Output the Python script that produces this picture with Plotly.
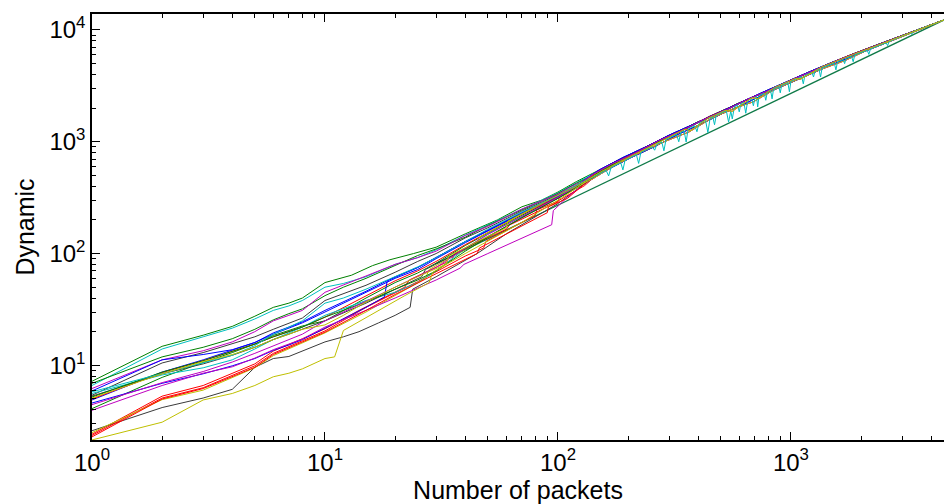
import plotly.graph_objects as go

# ---------------- data ----------------
STRAIGHT_X = [30, 4540]
STRAIGHT_Y = [81.3, 12300]

# low-x parts of the curves (x = number of packets, y = dynamic)
X_L01 = [1, 2, 3, 4, 5, 6, 7, 8, 10, 13, 16, 19, 24, 30, 40, 55, 70, 85, 100, 120]
Y_L01 = [7.2, 14.8, 18.6, 22.3, 27.5, 33, 36, 40, 55, 64, 78, 88, 100, 114, 150, 200, 262, 300, 355, 440]

X_STD = [1, 2, 3, 4, 5, 6, 7, 8, 10, 12, 15, 20, 25, 30, 40, 50, 70, 100, 120]
Y_L02 = [6.6, 14.0, 18, 21.5, 26, 31, 34, 38, 50, 54, 62, 80, 92, 108, 146, 180, 250, 350, 430]
Y_L03 = [6.9, 11.9, 14.5, 17.3, 21, 25.5, 29, 32, 42, 50, 60, 78, 96, 110, 140, 178, 245, 345, 425]
Y_L04 = [6.2, 11.2, 13.5, 16.2, 20, 25, 28, 31, 45, 52, 63, 80, 92, 105, 145, 175, 250, 340, 420]
Y_L05 = [5.4, 10.5, 13, 15.6, 18, 21, 24, 26.5, 38, 44, 52, 68, 85, 100, 138, 170, 240, 335, 410]
Y_L06 = [5.8, 8.4, 10.5, 12.3, 15, 19, 22, 25, 36, 40, 48, 62, 76, 92, 128, 165, 235, 330, 410]
Y_L07 = [4.9, 8.7, 11.2, 13.6, 16, 19, 21.5, 24, 30, 36, 45, 60, 72, 90, 125, 160, 230, 325, 405]
Y_L08 = [5.0, 8.6, 11, 13.3, 15.5, 18, 20, 22, 27, 33, 42, 57, 70, 85, 120, 155, 225, 320, 400]
Y_L09 = [4.1, 7.8, 10.6, 13.0, 15.5, 18.5, 20.5, 22.5, 25, 31, 40, 55, 67, 82, 118, 152, 220, 318, 398]
Y_L11 = [5.6, 8.2, 9.5, 11.2, 14, 17, 19.5, 22, 28, 32, 38, 45, 55, 70, 110, 150, 215, 312, 395]
Y_L14 = [5.2, 8.7, 11, 13.3, 15.5, 18, 20, 22, 27, 31, 37, 48, 58, 70, 105, 140, 210, 312, 392]
Y_L15 = [5.9, 11.2, 12.5, 13.8, 16, 19.5, 22, 24.5, 31, 37, 46, 62, 75, 92, 128, 162, 232, 328, 405]
Y_M3 = [4.45, 7.0, 8.8, 10.7, 12.8, 15, 17, 19, 25, 30, 37, 50, 62, 75, 112, 148, 215, 318, 400]

X_L10 = [1, 2, 3, 4, 5, 6, 7, 8, 10, 12, 15, 20, 25, 33, 34, 45, 60, 61, 80, 100, 120]
Y_L10 = [5.1, 8.4, 10.8, 12.5, 14.5, 17, 19, 21, 23, 28, 37, 50, 62, 80, 95, 128, 170, 195, 262, 330, 400]

X_L12 = [1, 2, 3, 4, 5, 6, 7, 8, 10, 12, 15, 18, 18.5, 25, 30, 40, 50, 70, 100, 120]
Y_L12 = [4.6, 6.9, 8.4, 9.9, 11.5, 13.6, 15.2, 17, 21.5, 26, 33, 41, 57, 75, 92, 128, 160, 228, 325, 402]

X_L13 = [1, 2, 3, 4, 5, 6, 7, 8, 10, 12, 15, 20, 25, 30, 38, 39.5, 50, 70, 94, 95.5, 110, 130]
Y_L13 = [3.96, 6.6, 8.5, 9.7, 11.6, 13.8, 15.5, 17.2, 22, 25.5, 31, 40, 49, 58, 74, 80, 100, 138, 181, 242, 320, 420]

X_K2 = [1, 2, 3, 4, 5, 6, 7, 8, 10, 15, 20, 26, 27, 40, 60, 100, 130]
Y_K2 = [5.3, 8.4, 10.3, 12.3, 14.5, 17, 19, 21, 25, 36, 48, 62, 72, 110, 175, 310, 420]

X_RA = [1, 2, 3, 4, 5, 6, 7, 8, 10, 14, 22, 23, 35, 36, 60, 62, 100, 102, 125]
Y_RA = [2.42, 5.3, 6.6, 8.5, 10.3, 13.4, 15.3, 17.3, 21.2, 31, 50, 58, 88, 100, 165, 180, 290, 330, 420]

X_RB = [1, 2, 3, 4, 5, 6, 7, 8, 10, 15, 25, 40, 48, 49, 80, 81, 100, 130]
Y_RB = [2.36, 5.1, 6.3, 8.1, 9.9, 12.8, 14.8, 16.6, 20.3, 33, 56, 95, 112, 128, 220, 245, 295, 405]

X_RC = [1, 2, 3, 4, 5, 6, 7, 8, 10, 15, 20, 30, 45, 46, 70, 90, 91, 110, 135]
Y_RC = [2.29, 5.0, 6.2, 8.0, 9.6, 12.5, 14.3, 16.1, 19.8, 31, 43, 66, 100, 112, 175, 232, 262, 312, 450]

X_YA = [1, 2, 3, 4, 5, 6, 7, 8, 10, 15, 20, 27, 28, 45, 46, 70, 100, 128]
Y_YA = [2.5, 4.93, 6.0, 7.7, 9.5, 12.2, 14, 15.8, 19.5, 30, 42, 60, 72, 125, 140, 225, 330, 445]

X_YB = [1, 2, 3, 4, 5, 6, 7, 8, 10, 11, 12, 16, 22, 28, 29, 40, 70, 100, 130]
Y_YB = [2.15, 3.1, 4.9, 5.6, 6.6, 7.9, 8.5, 9.3, 11.5, 11.9, 20.5, 29, 42, 55, 68, 100, 190, 300, 430]

X_KA = [1, 2, 3, 4, 5, 6, 7, 8, 10, 12, 14, 17, 20, 23.2, 23.8, 30, 45, 60, 100, 130]
Y_KA = [2.6, 4.19, 5.1, 6.1, 9.6, 11.5, 12.0, 13.5, 16.2, 18, 20, 24, 28, 33, 48, 62, 100, 150, 280, 420]

# high-x parts (all curves converge to the same end point)
TAIL_A_X = [150, 190, 240, 300, 380, 480, 600, 760, 950, 1200, 1500, 1900, 2400, 3000, 3700, 4540]
TAIL_A_Y = [558, 722, 907, 1146, 1429, 1800, 2220, 2782, 3420, 4224, 5130, 6232, 7488, 8910, 10508, 12300]
TAIL_B_X = [140, 170, 210, 270, 340, 420, 530, 650, 820, 1000, 1300, 1650, 2100, 2700, 3400, 4540]
TAIL_B_Y = [504, 632, 773, 1021, 1258, 1571, 1940, 2392, 2936, 3560, 4485, 5544, 6720, 8181, 9860, 12300]
TAIL_C_X = [160, 200, 250, 320, 400, 500, 640, 800, 1000, 1250, 1600, 2000, 2600, 3300, 4100, 4540]
TAIL_C_Y = [568, 730, 930, 1171, 1488, 1820, 2349, 2864, 3540, 4350, 5376, 6440, 7956, 9636, 11398, 12300]
TAIL_D_X = [130, 165, 205, 260, 330, 410, 510, 630, 780, 960, 1200, 1550, 2000, 2500, 3200, 4000, 4540]
TAIL_D_Y = [442, 569, 718, 905, 1172, 1435, 1795, 2174, 2707, 3264, 4020, 5038, 6240, 7550, 9280, 11120, 12300]
TAIL_E_X = [150, 185, 230, 290, 350, 370, 440, 520, 560, 680, 720, 850, 1050, 1100, 1350, 1700, 2200, 2900, 3600, 4540]
TAIL_E_Y = [525, 666, 833, 1061, 1295, 1258, 1619, 1903, 1876, 2475, 2434, 3060, 3696, 3630, 4658, 5644, 6930, 8642, 10296, 12300]
TAIL_F_X = [145, 175, 215, 280, 360, 450, 570, 700, 880, 1100, 1400, 1750, 2250, 2850, 3500, 4300, 4540]
TAIL_F_Y = [531, 658, 804, 1064, 1339, 1697, 2109, 2562, 3186, 3894, 4816, 5845, 7133, 8550, 10080, 11825, 12300]
TAIL_G_X = [155, 195, 245, 310, 390, 470, 580, 720, 900, 1150, 1450, 1850, 2350, 2950, 3650, 4540]
TAIL_G_Y = [561, 722, 921, 1147, 1474, 1739, 2158, 2621, 3240, 4025, 4930, 6105, 7379, 8791, 10403, 12300]
TAIL_H_X = [140, 175, 225, 285, 365, 455, 560, 690, 860, 1080, 1350, 1700, 2150, 2750, 3450, 4200, 4540]
TAIL_H_Y = [462, 613, 799, 998, 1223, 1615, 1960, 2277, 2967, 3650, 4455, 5304, 6665, 8113, 9798, 11550, 12300]
TAIL_CY_X = [140, 161, 165, 169, 186, 190, 194, 217, 222, 227, 254, 260, 266, 279, 285, 291,
             323, 330, 337, 348, 355, 362, 387, 395, 403, 430, 440, 450, 462, 470, 478,
             528, 540, 552, 560, 572, 590, 600, 610, 628, 640, 652, 678, 690, 702, 712, 720, 730,
             768, 780, 792, 818, 830, 842, 888, 900, 912, 970, 985, 1000, 1112, 1130, 1148,
             1230, 1250, 1270, 1320, 1340, 1360, 1535, 1560, 1585, 1675, 1700, 1725, 1820, 1850, 1880,
             2125, 2160, 2195, 2560, 2600, 2640, 3250, 3300, 3350, 4000, 4540]
TAIL_CY_Y = [476, 555, 495, 585, 651, 560, 679, 770, 640, 806, 904, 840, 950, 999, 830, 1048,
             1163, 1000, 1213, 1253, 995, 1303, 1393, 1230, 1459, 1557, 1210, 1629, 1663, 1420, 1730,
             1901, 1500, 1877, 1600, 2059, 2124, 1850, 2196, 2248, 1800, 2334, 2420, 2100, 2499, 2528, 2050, 2592,
             2719, 2350, 2796, 2879, 2420, 2964, 3117, 2740, 3192, 3385, 2800, 3480, 3825, 3300, 3938,
             4182, 3800, 4305, 4448, 3800, 4570, 5050, 4400, 5199, 5427, 5000, 5572, 5806, 5200, 5978,
             6588, 6050, 6783, 7680, 7250, 7894, 9425, 9150, 9682, 11120, 12300]

C_B, C_G, C_R, C_C, C_M, C_Y, C_K = '#0000ff', '#008000', '#ff0000', '#00bfbf', '#bf00bf', '#bfbf00', '#3a3a3a'
C_STRAIGHT = '#0f7a48'

# (low x, low y, tail x, tail y, colour), in drawing order
CURVES = [
    (X_L01, Y_L01, TAIL_A_X, TAIL_A_Y, C_G),
    (X_STD, Y_L02, TAIL_F_X, TAIL_F_Y, C_C),
    (X_RA, Y_RA, TAIL_B_X, TAIL_B_Y, C_R),
    (X_STD, Y_L03, TAIL_C_X, TAIL_C_Y, C_G),
    (X_STD, Y_L04, TAIL_H_X, TAIL_H_Y, C_M),
    (X_KA, Y_KA, TAIL_G_X, TAIL_G_Y, C_K),
    (X_STD, Y_L07, TAIL_A_X, TAIL_A_Y, C_B),
    (X_RB, Y_RB, TAIL_E_X, TAIL_E_Y, C_R),
    (X_STD, Y_L05, TAIL_D_X, TAIL_D_Y, C_K),
    (X_STD, Y_L09, TAIL_F_X, TAIL_F_Y, C_G),
    (X_STD, Y_L08, TAIL_B_X, TAIL_B_Y, C_R),
    (X_STD, Y_L11, TAIL_C_X, TAIL_C_Y, C_C),
    (X_L12, Y_L12, TAIL_D_X, TAIL_D_Y, C_B),
    (X_YA, Y_YA, TAIL_G_X, TAIL_G_Y, C_Y),
    (X_L13, Y_L13, TAIL_H_X, TAIL_H_Y, C_M),
    (X_K2, Y_K2, TAIL_C_X, TAIL_C_Y, C_K),
    (X_STD, Y_L14, TAIL_G_X, TAIL_G_Y, C_G),
    (X_RC, Y_RC, TAIL_F_X, TAIL_F_Y, C_R),
    (X_STD, Y_L15, TAIL_A_X, TAIL_A_Y, C_B),
    (X_STD, Y_M3, TAIL_B_X, TAIL_B_Y, C_M),
    (X_YB, Y_YB, TAIL_H_X, TAIL_H_Y, C_Y),
    (X_STD, Y_L06, TAIL_CY_X, TAIL_CY_Y, C_C),
    (X_L10, Y_L10, TAIL_E_X, TAIL_E_Y, C_Y),
]

X_TICKS = [1, 10, 100, 1000]
X_TICKTEXT = ['10<sup>0</sup>', '10<sup>1</sup>', '10<sup>2</sup>', '10<sup>3</sup>']
Y_TICKS = [10, 100, 1000, 10000]
Y_TICKTEXT = ['10<sup>1</sup>', '10<sup>2</sup>', '10<sup>3</sup>', '10<sup>4</sup>']
X_TITLE = 'Number of packets'
Y_TITLE = 'Dynamic'

# ---------------- figure ----------------
FONT = 'Liberation Sans, Arial, Helvetica, sans-serif'
fig = go.Figure()
fig.add_trace(go.Scatter(x=STRAIGHT_X, y=STRAIGHT_Y, mode='lines',
                         line=dict(color=C_STRAIGHT, width=1.3), hoverinfo='skip', showlegend=False))
for lx, ly, tx, ty, col in CURVES:
    fig.add_trace(go.Scatter(x=list(lx) + list(tx), y=list(ly) + list(ty), mode='lines',
                             line=dict(color=col, width=1), hoverinfo='skip', showlegend=False))

x_minor = [m * 10 ** k for k in range(0, 4) for m in range(2, 10) if m * 10 ** k < 4540]
y_minor = [m * 10 ** k for k in range(0, 5) for m in range(2, 10) if 2.14 < m * 10 ** k < 13900]

fig.update_layout(
    width=944, height=504,
    margin=dict(l=92, r=0, t=14, b=64),
    paper_bgcolor='white', plot_bgcolor='white',
    font=dict(family=FONT, size=24, color='black'),
    xaxis=dict(type='log', range=[0, 3.657], showgrid=False, zeroline=False,
               showline=True, linecolor='black', linewidth=1.5, mirror='ticks',
               ticks='inside', ticklen=8, tickwidth=1, tickcolor='black',
               tickvals=X_TICKS, ticktext=X_TICKTEXT, tickfont=dict(size=24),
               minor=dict(ticks='inside', ticklen=4, tickwidth=1, tickcolor='black', tickvals=x_minor),
               title=dict(text=X_TITLE, font=dict(size=25), standoff=0)),
    yaxis=dict(type='log', range=[0.332, 4.143], showgrid=False, zeroline=False,
               showline=True, linecolor='black', linewidth=1.5, mirror=False,
               ticks='inside', ticklen=8, tickwidth=1, tickcolor='black',
               tickvals=Y_TICKS, ticktext=Y_TICKTEXT, tickfont=dict(size=24),
               minor=dict(ticks='inside', ticklen=4, tickwidth=1, tickcolor='black', tickvals=y_minor),
               title=dict(text=Y_TITLE, font=dict(size=25), standoff=8)),
)

fig.write_html('out.html', config={'displayModeBar': False})
